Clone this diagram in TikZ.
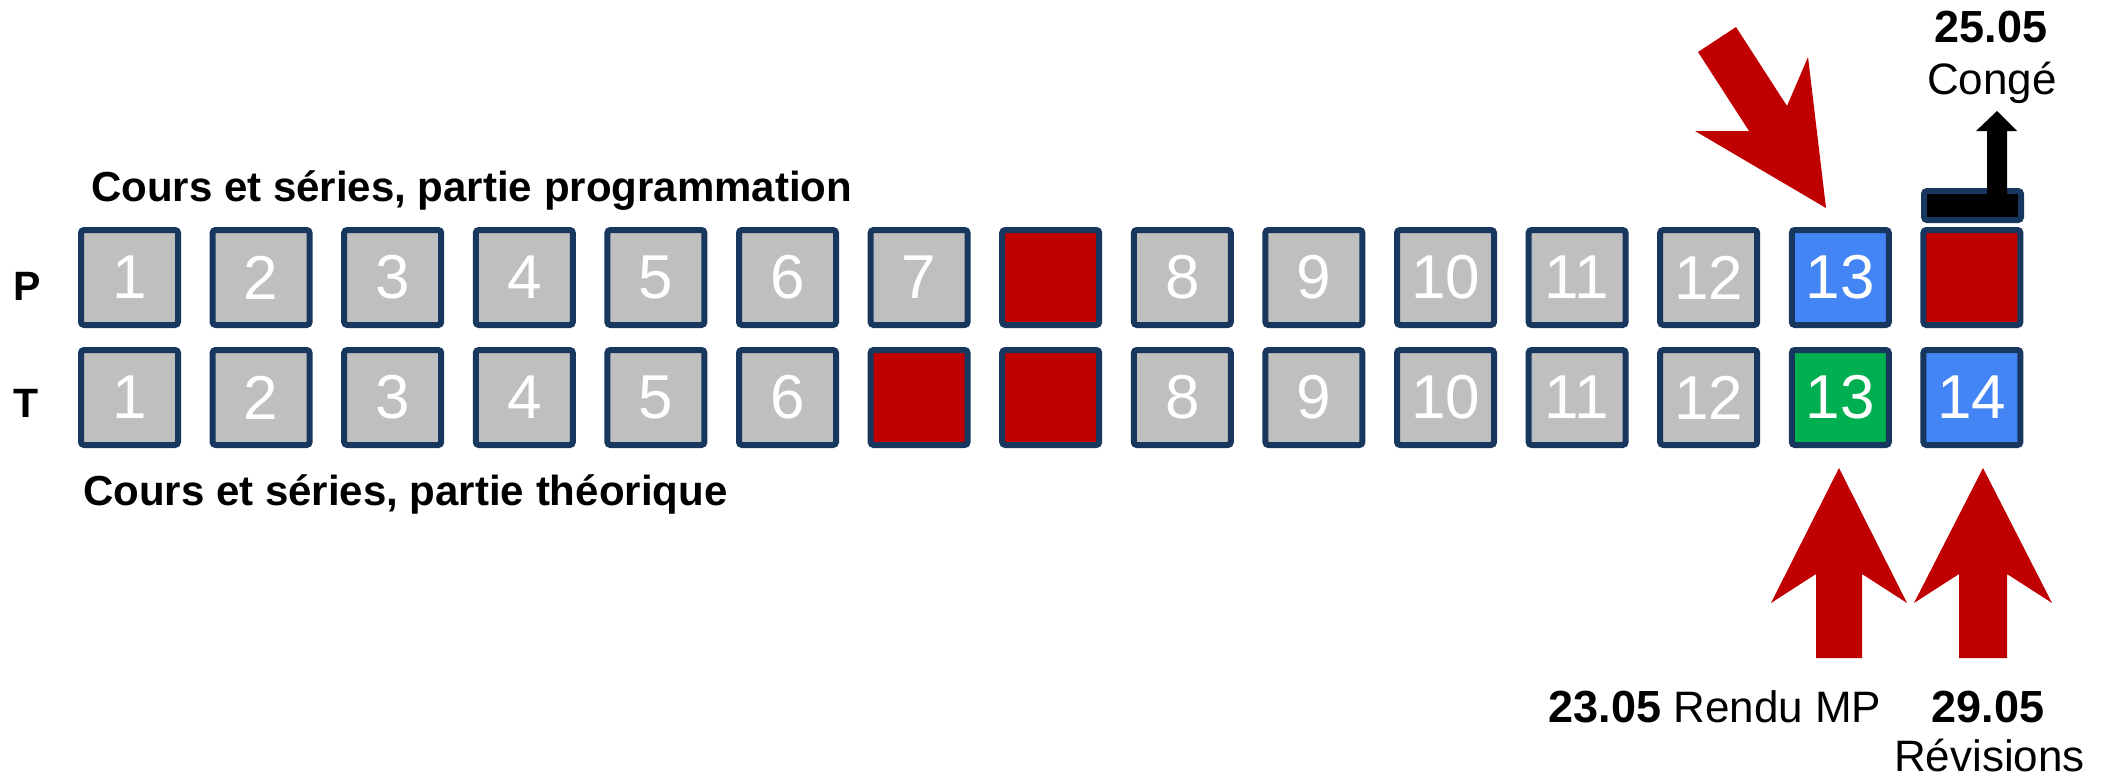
\documentclass[tikz,border=0pt]{standalone}
\usepackage{fontspec}
\setmainfont{Liberation Sans}
\definecolor{navy}{HTML}{17375E}
\definecolor{cellgray}{HTML}{BFBFBF}
\definecolor{cellred}{HTML}{C00000}
\definecolor{cellblue}{HTML}{4485F5}
\definecolor{cellgreen}{HTML}{00B050}
\begin{document}
\begin{tikzpicture}[x=1pt,y=-1pt,
  cell/.style={draw=navy, line width=6pt, rounded corners=3pt, minimum width=97pt,
    minimum height=95pt, inner sep=0pt, text=white, font=\fontsize{62}{62}\selectfont},
  barbox/.style={draw=navy, line width=6pt, rounded corners=3pt, minimum width=97pt,
    minimum height=29pt, inner sep=0pt, fill=black},
  title/.style={anchor=base west, inner sep=0pt, font=\bfseries\fontsize{42}{42}\selectfont},
  rowlab/.style={anchor=base, inner sep=0pt, font=\bfseries\fontsize{41}{41}\selectfont},
  datebold/.style={anchor=base, inner sep=0pt, font=\bfseries\fontsize{45}{45}\selectfont},
  datereg/.style={anchor=base, inner sep=0pt, font=\fontsize{44}{44}\selectfont},
  redarrow/.style={fill=cellred},
]
\useasboundingbox (0,0) rectangle (2108,776);

% row P
\foreach \i/\t/\c in {0/1/cellgray,1/2/cellgray,2/3/cellgray,3/4/cellgray,4/5/cellgray,
  5/6/cellgray,6/7/cellgray,7//cellred,8/8/cellgray,9/9/cellgray,10/10/cellgray,
  11/11/cellgray,12/12/cellgray,13/13/cellblue,14//cellred}
  \node[cell, fill=\c] (p\i) at ({129.5+131.6*\i},277.5) {\t};
% row T
\foreach \i/\t/\c in {0/1/cellgray,1/2/cellgray,2/3/cellgray,3/4/cellgray,4/5/cellgray,
  5/6/cellgray,6//cellred,7//cellred,8/8/cellgray,9/9/cellgray,10/10/cellgray,
  11/11/cellgray,12/12/cellgray,13/13/cellgreen,14/14/cellblue}
  \node[cell, fill=\c] (t\i) at ({129.5+131.6*\i},397.5) {\t};

% labels
\node[title] (ttop) at (91,201) {Cours et séries, partie programmation};
\node[title] (tbot) at (83,505) {Cours et séries, partie théorique};
\node[rowlab] (lp) at (27,300) {P};
\node[rowlab] (lt) at (26,417) {T};

% conge bar and black arrow
\node[barbox] (bar) at (1972.5,205.5) {};
\fill[black] (1987,196) -- (1987,131) -- (1976,131) -- (1997,111) -- (2017,131)
  -- (2007,131) -- (2007,196) -- cycle;
\node[datebold] (d25) at (1991,43) {25.05};
\node[datereg] (conge) at (1992,94) {Congé};

% red diagonal arrow
\fill[redarrow] (1698,52) -- (1736,27) -- (1787,106) -- (1808,57) -- (1826,208)
  -- (1695,131) -- (1749,131) -- cycle;

% red up arrows
\fill[redarrow] (1816,658) -- (1816,574) -- (1771,603) -- (1839,468) -- (1907,603)
  -- (1862,574) -- (1862,658) -- cycle;
\fill[redarrow] (1959,658) -- (1959,574) -- (1914,603) -- (1983,468) -- (2052,603)
  -- (2007,574) -- (2007,658) -- cycle;

\node[anchor=base, inner sep=0pt, font=\fontsize{44}{44}\selectfont] (d23) at (1715,722)
  {{\bfseries\fontsize{45}{45}\selectfont 23.05} Rendu MP};
\node[datebold] (d29) at (1988,722) {29.05};
\node[datereg] (rev) at (1989.5,771) {Révisions};
\end{tikzpicture}
\end{document}
